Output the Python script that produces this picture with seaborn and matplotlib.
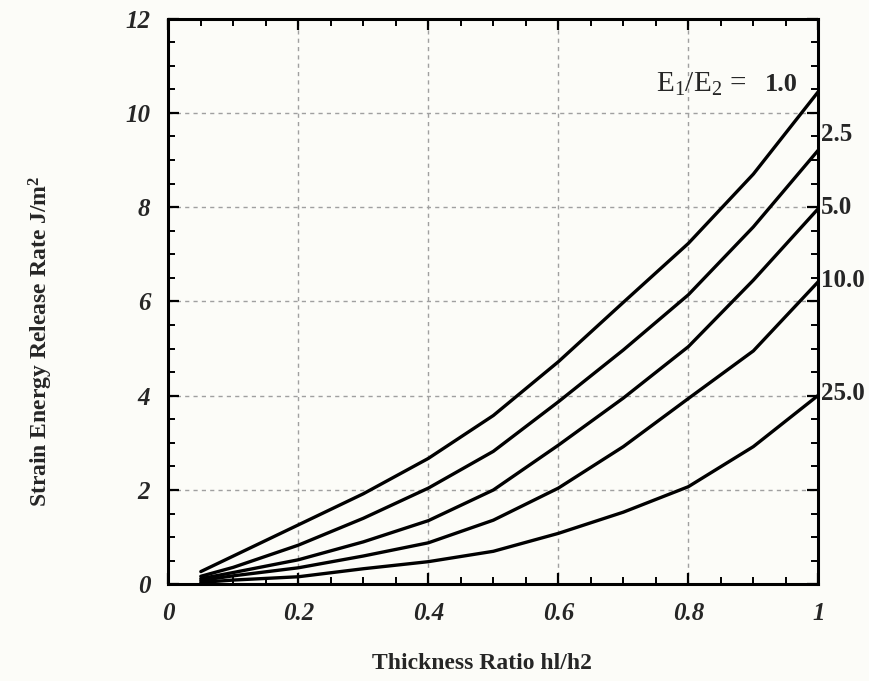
import numpy as np
import pandas as pd
import matplotlib
matplotlib.use("Agg")
import matplotlib.pyplot as plt
from matplotlib.ticker import MultipleLocator
import seaborn as sns

# Thickness ratio h1/h2 sampled for each modulus ratio curve
thickness = [0.05, 0.1, 0.2, 0.3, 0.4, 0.5, 0.6, 0.7, 0.8, 0.9, 1.0]

# Strain energy release rate (J/m^2) for each modulus ratio E1/E2
g_1_0 = [0.27, 0.60, 1.26, 1.92, 2.67, 3.58, 4.72, 5.98, 7.23, 8.70, 10.45]
g_2_5 = [0.17, 0.36, 0.83, 1.40, 2.04, 2.82, 3.87, 4.97, 6.14, 7.58, 9.21]
g_5_0 = [0.12, 0.25, 0.52, 0.90, 1.35, 2.00, 2.95, 3.95, 5.04, 6.45, 7.97]
g_10_0 = [0.08, 0.18, 0.35, 0.60, 0.88, 1.36, 2.04, 2.92, 3.94, 4.95, 6.42]
g_25_0 = [0.04, 0.09, 0.16, 0.33, 0.48, 0.70, 1.08, 1.53, 2.07, 2.92, 4.01]

ratio_labels = ["1.0", "2.5", "5.0", "10.0", "25.0"]
series = [g_1_0, g_2_5, g_5_0, g_10_0, g_25_0]

frames = []
for lab, vals in zip(ratio_labels, series):
    frames.append(pd.DataFrame({"h": thickness, "G": vals, "ratio": lab}))
df = pd.concat(frames, ignore_index=True)

sns.set_theme(style="ticks")
plt.rcParams["font.family"] = ["Liberation Serif", "DejaVu Serif"]
plt.rcParams["mathtext.fontset"] = "custom"
plt.rcParams["mathtext.rm"] = "Liberation Serif"
plt.rcParams["mathtext.it"] = "Liberation Serif:italic"
plt.rcParams["mathtext.bf"] = "Liberation Serif:bold"

bg = "#fcfcf8"
fig = plt.figure(figsize=(8.69, 6.81), dpi=100, facecolor=bg)
ax = fig.add_axes([0.1937, 0.142, 0.748, 0.8308])
ax.set_facecolor(bg)

sns.lineplot(data=df, x="h", y="G", hue="ratio", palette=["black"] * 5,
             linewidth=2.4, legend=False, ax=ax, sort=False)

ax.set_xlim(0, 1)
ax.set_ylim(0, 12)
ax.set_xticks([0, 0.2, 0.4, 0.6, 0.8, 1.0])
ax.set_xticklabels(["0", "0.2", "0.4", "0.6", "0.8", "1"])
ax.xaxis.set_minor_locator(MultipleLocator(0.05))
ax.yaxis.set_major_locator(MultipleLocator(2))
ax.yaxis.set_minor_locator(MultipleLocator(0.5))

ax.grid(True, which="major", color="#a0a0a0", linestyle=(0, (3, 3)), linewidth=1.0)

for sp in ax.spines.values():
    sp.set_linewidth(2.2)
    sp.set_color("black")

ax.tick_params(which="both", direction="in", top=True, right=True, color="black")
ax.tick_params(which="major", length=8, width=1.6, pad=13)
ax.tick_params(which="minor", length=5, width=1.4)
for t in ax.get_xticklabels() + ax.get_yticklabels():
    t.set_fontstyle("italic")
    t.set_fontweight("bold")
    t.set_fontsize(18)

ax.set_xlabel("Thickness Ratio hl/h2", fontsize=17, fontweight="bold")
ax.set_ylabel("Strain Energy Release Rate J/m$^\\mathbf{2}$", fontsize=17,
              fontweight="bold")
ax.xaxis.set_label_coords(0.483, -0.122)
ax.yaxis.set_label_coords(-0.174, 0.43)

# Curve labels at the right edge
label_y = {"2.5": 9.55, "5.0": 8.0, "10.0": 6.45, "25.0": 4.05}
for lab in ratio_labels[1:]:
    ax.annotate(lab, xy=(1.0, label_y[lab]), xycoords="data",
                xytext=(2, 0), textcoords="offset points",
                ha="left", va="center", fontsize=18, fontweight="bold",
                annotation_clip=False)

ax.annotate("1.0", xy=(1.0, 10.6), xycoords="data", xytext=(-15, 0),
            textcoords="offset points", ha="right", va="center",
            fontsize=19, fontweight="bold")
ax.annotate(r"E$_1$/E$_2$ =", xy=(1.0, 10.6), xycoords="data", xytext=(-52, 0),
            textcoords="offset points", ha="right", va="center",
            fontsize=21)

fig.savefig("out.png", dpi=100, facecolor=bg)
